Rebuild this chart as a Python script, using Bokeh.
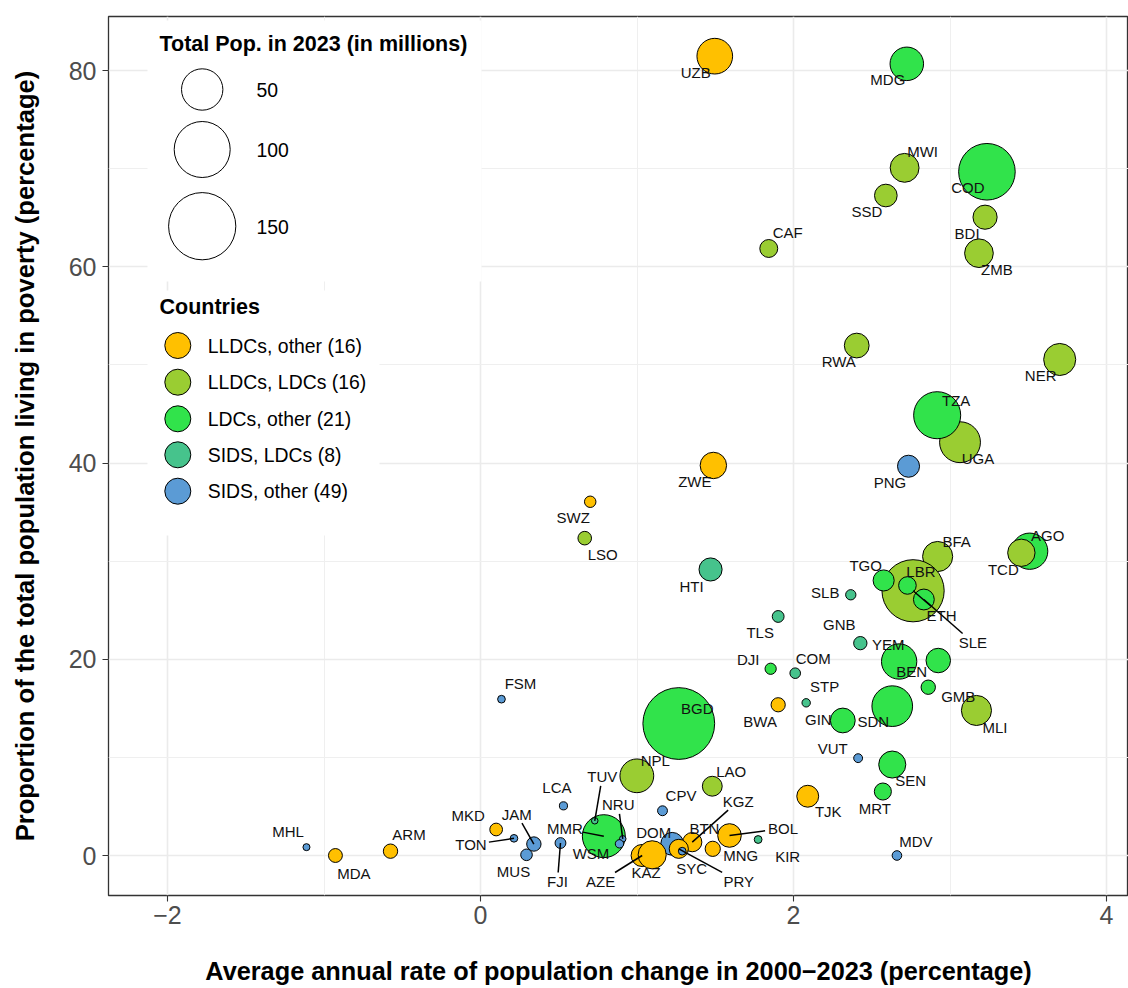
import math
from bokeh.plotting import figure
from bokeh.models import Range1d, FixedTicker, ColumnDataSource, BoxAnnotation
from bokeh.core.properties import value
from bokeh.embed import file_html
from bokeh.resources import INLINE

# ---------------- data ----------------
# drawing order = alphabetical by country name
codes = ["AGO", "ARM", "AZE", "BGD", "BEN", "BTN", "BOL", "BWA", "BFA", "BDI",
         "CPV", "CAF", "TCD", "COM", "COD", "DJI", "DOM", "SWZ", "ETH", "FJI",
         "GMB", "GIN", "GNB", "HTI", "JAM", "KAZ", "KIR", "KGZ", "LAO", "LSO",
         "LBR", "MDG", "MWI", "MDV", "MLI", "MHL", "MRT", "MUS", "FSM", "MNG",
         "MMR", "NRU", "NPL", "NER", "MKD", "PNG", "PRY", "MDA", "RWA", "LCA",
         "WSM", "STP", "SEN", "SYC", "SLE", "SLB", "SSD", "SDN", "TJK", "TLS",
         "TGO", "TON", "TUV", "UGA", "TZA", "UZB", "VUT", "YEM", "ZMB", "ZWE"]
groups = ["LDC", "LLO", "LLO", "LDC", "LDC", "LLO", "LLO", "LLO", "LLL", "LLL",
          "SO", "LLL", "LLL", "SL", "LDC", "LDC", "SO", "LLO", "LLL", "SO",
          "LDC", "LDC", "SL", "SL", "SO", "LLO", "SL", "LLO", "LLL", "LLL",
          "LDC", "LDC", "LLL", "SO", "LLL", "SO", "LDC", "SO", "SO", "LLO",
          "LDC", "SO", "LLL", "LLL", "LLO", "SO", "LLO", "LLO", "LLL", "SO",
          "SO", "SL", "LDC", "SO", "LDC", "SL", "LLL", "LDC", "LLO", "SL",
          "LDC", "SO", "SL", "LLL", "LDC", "LLO", "SO", "LDC", "LLL", "LLO"]
growth = [3.509, -0.575, 1.033, 1.267, 2.925, 1.370, 1.591, 1.902, 2.921, 3.224,
          1.163, 1.842, 3.456, 2.011, 3.236, 1.854, 1.225, 0.701, 2.764, 0.511,
          2.861, 2.315, 2.427, 1.470, 0.341, 1.097, 1.774, 1.353, 1.481, 0.666,
          2.728, 2.724, 2.710, 2.661, 3.169, -1.112, 2.571, 0.294, 0.134, 1.484,
          0.788, 0.909, 0.999, 3.701, 0.100, 2.735, 1.267, -0.927, 2.404, 0.530,
          0.888, 2.081, 2.631, 1.289, 2.833, 2.366, 2.590, 2.631, 2.091, 1.902,
          2.576, 0.214, 0.730, 3.064, 2.918, 1.497, 2.413, 2.675, 3.185, 1.488]
poverty = [31.01, 0.44, 0.00, 13.45, 19.87, 1.45, 2.04, 15.36, 30.47, 65.05,
           4.56, 61.86, 30.85, 18.58, 69.68, 19.03, 1.19, 36.05, 26.98, 1.27,
           17.15, 13.76, 21.64, 29.15, 1.17, 0.07, 1.63, 1.36, 7.06, 32.34,
           27.52, 80.68, 70.08, 0.00, 14.78, 0.85, 6.52, 0.07, 15.93, 0.68,
           1.97, 1.70, 8.12, 50.55, 2.65, 39.67, 0.68, 0.00, 51.97, 5.06,
           1.19, 15.56, 9.27, 0.44, 26.09, 26.57, 67.26, 15.22, 6.04, 24.36,
           28.03, 1.75, 3.54, 42.12, 44.87, 81.46, 9.92, 19.77, 61.38, 39.75]
population = [36.7, 2.8, 10.4, 173.0, 13.7, 0.79, 12.4, 2.7, 23.3, 13.2,
              0.6, 5.7, 18.3, 0.85, 102.3, 1.1, 11.3, 1.2, 126.5, 0.94,
              2.8, 14.2, 2.15, 11.7, 2.8, 19.6, 0.13, 7.0, 7.7, 2.3,
              5.4, 30.3, 20.9, 0.52, 23.3, 0.042, 4.9, 1.26, 0.115, 3.4,
              54.6, 0.013, 30.9, 27.2, 1.8, 10.3, 6.9, 2.5, 14.1, 0.18,
              0.225, 0.23, 17.8, 0.12, 8.8, 0.74, 11.1, 48.1, 10.1, 1.36,
              9.1, 0.107, 0.011, 48.6, 67.4, 35.2, 0.33, 34.4, 20.6, 16.7]

group_keys = ["LLO", "LLL", "LDC", "SL", "SO"]
group_names = ["LLDCs, other (16)", "LLDCs, LDCs (16)", "LDCs, other (21)",
               "SIDS, LDCs (8)", "SIDS, other (49)"]
group_colors = ["#FFC000", "#9ACD32", "#31E34B", "#46C38C", "#5B9BD5"]

size_breaks = [50, 100, 150]
size_break_labels = ["50", "100", "150"]

x_ticks = [-2, 0, 2, 4]
x_tick_labels = ["\u22122", "0", "2", "4"]
y_ticks = [0, 20, 40, 60, 80]
y_tick_labels = ["0", "20", "40", "60", "80"]

x_title = "Average annual rate of population change in 2000\u22122023 (percentage)"
y_title = "Proportion of the total population living in poverty (percentage)"

# ---------------- layout / style ----------------
W, H = 1128, 988
BL, BR, BT, BB = 108, 0, 16, 93
FW, FH = W - BL - BR, H - BT - BB
X0, X1 = (108 - 480) / 156.5, (1128 - 480) / 156.5
Y0, Y1 = (855 - 895) / 9.8125, (855 - 16) / 9.8125
SX, SY = FW / (X1 - X0), FH / (Y1 - Y0)
FONT = "Liberation Sans"


def size_of(pop):
    return 6 + 5 * math.sqrt(pop)


def px_x(px):  # canvas pixel -> data x (for legend annotations)
    return X0 + (px - BL) / SX


def px_y(py):
    return Y1 - (py - BT) / SY


# label offsets (screen px; dx right, dy down), emulating ggrepel placement
label_offsets = {
    "UZB": (-19, 16), "MDG": (-19, 16), "MWI": (18, -16), "COD": (-19, 16),
    "SSD": (-19, 16), "MOZ": (1, 16.5), "BDI": (-18, 16), "ZMB": (18, 16.5),
    "CAF": (19, -15.5), "RWA": (-18, 16), "NER": (-19, 16), "TZA": (19, -14.5),
    "UGA": (18, 16), "PNG": (-18.5, 16), "ZWE": (-18.5, 16), "SWZ": (-17, 16),
    "LSO": (18, 16), "HTI": (-19, 17), "BFA": (19, -15), "AGO": (18, -16),
    "TCD": (-18, 17), "TGO": (-18, -15), "LBR": (13.5, -14), "ETH": (28.5, 24.5),
    "SLE": (49, 43), "SLB": (-25.5, -2), "TLS": (-18, 16.5), "GNB": (-21, -18.5),
    "YEM": (-11, -17), "BEN": (-26.5, 11), "DJI": (-22.5, -9), "COM": (18, -15),
    "GMB": (30, 9), "STP": (18.5, -16), "BWA": (-18, 16.5), "GIN": (-24.5, -1),
    "SDN": (-19, 15), "MLI": (18.5, 17), "VUT": (-25.5, -10), "SEN": (18.5, 16),
    "MRT": (-8, 16.5), "TJK": (20.5, 15), "FSM": (19, -16), "BGD": (18.5, -15.5),
    "NPL": (18.5, -15), "LAO": (19, -15), "CPV": (18.5, -15), "LCA": (-6.5, -18),
    "TUV": (7.5, -44), "NRU": (-4.5, -34), "MMR": (-39, -7.5), "WSM": (-28.5, 10),
    "JAM": (-17, -30), "TON": (-43, 6.5), "MUS": (-13, 16.5), "FJI": (-3, 38.5),
    "MKD": (-28, -14), "MHL": (-18.5, -16), "MDA": (18.5, 17.5), "ARM": (18.5, -16.5),
    "AZE": (-41.5, 26), "KAZ": (-6, 18), "DOM": (-18.5, -11), "SYC": (9.5, 17),
    "PRY": (60, 32.5), "KGZ": (46, -41), "BTN": (9.5, -13), "BOL": (53.5, -7),
    "MNG": (28, 7), "KIR": (29.5, 16.5), "MDV": (19, -14.5),
}
leaders = {"TUV", "NRU", "MMR", "JAM", "TON", "FJI", "AZE", "PRY", "KGZ",
           "BOL", "SLE", "ETH"}

color_of = dict(zip(group_keys, group_colors))

src = ColumnDataSource(dict(
    x=growth, y=poverty, code=codes,
    size=[size_of(v) for v in population],
    color=[color_of[g] for g in groups],
    dx=[label_offsets[c][0] for c in codes],
    dy=[label_offsets[c][1] for c in codes],
))

p = figure(width=W, height=H, output_backend="svg", toolbar_location=None,
           x_range=Range1d(X0, X1), y_range=Range1d(Y0, Y1),
           min_border_left=BL, min_border_right=BR, min_border_top=BT,
           min_border_bottom=BB, title=None)
p.background_fill_color = "white"
p.border_fill_color = "white"
p.outline_line_color = "#333333"
p.outline_line_width = 1.3

for ax in (p.xaxis, p.yaxis):
    ax.axis_line_color = None
    ax.major_tick_line_color = "#333333"
    ax.major_tick_line_width = 1.1
    ax.major_tick_out = 6
    ax.major_tick_in = 0
    ax.minor_tick_line_color = None
    ax.major_label_text_font = FONT
    ax.major_label_text_font_size = "25px"
    ax.major_label_text_color = "#4D4D4D"
    ax.major_label_standoff = 6
    ax.axis_label_text_font = FONT
    ax.axis_label_text_font_size = "25.6px"
    ax.axis_label_text_font_style = "bold"
    ax.axis_label_text_color = "#000000"

p.xaxis.major_label_standoff = 4
p.xaxis.axis_label_text_font_size = "25.3px"
p.xaxis.ticker = FixedTicker(ticks=x_ticks, minor_ticks=[-3, -1, 1, 3])
p.yaxis.ticker = FixedTicker(ticks=y_ticks, minor_ticks=[10, 30, 50, 70])
p.xaxis.major_label_overrides = dict(zip(x_ticks, x_tick_labels))
p.yaxis.major_label_overrides = dict(zip(y_ticks, y_tick_labels))
p.yaxis.axis_label = y_title
p.yaxis.axis_label_standoff = 27
p.xaxis.axis_label = x_title
p.xaxis.axis_label_standoff = 30

for g in (p.xgrid, p.ygrid):
    g.grid_line_color = "#EBEBEB"
    g.grid_line_width = 1.6
    g.minor_grid_line_color = "#EFEFEF"
    g.minor_grid_line_width = 1.0

# ---------------- legend backgrounds ----------------
p.add_layout(BoxAnnotation(left=px_x(147), right=px_x(481), top=px_y(20), bottom=px_y(281),
                           fill_color="white", fill_alpha=1, line_color=None, level="underlay"))
p.add_layout(BoxAnnotation(left=px_x(147), right=px_x(379), top=px_y(290), bottom=px_y(535),
                           fill_color="white", fill_alpha=1, line_color=None, level="underlay"))

# ---------------- points ----------------
p.scatter("x", "y", source=src, size="size", fill_color="color", line_color="black",
          line_width=1.0, marker="circle")

# ---------------- leader segments ----------------
sx0, sy0, sx1, sy1 = [], [], [], []
for c, xv, yv in zip(codes, growth, poverty):
    if c not in leaders:
        continue
    ox, oy = label_offsets[c]
    hw, hh = len(c) * 5.3 + 2, 9
    t = min(hw / abs(ox) if ox else 1e9, hh / abs(oy) if oy else 1e9)
    ex, ey = ox * (1 - t), oy * (1 - t)
    sx0.append(xv); sy0.append(yv)
    sx1.append(xv + ex / SX); sy1.append(yv - ey / SY)
p.segment(sx0, sy0, sx1, sy1, line_color="black", line_width=1.5)

# ---------------- point labels ----------------
p.text("x", "y", text="code", source=src, x_offset="dx", y_offset="dy",
       text_font=value(FONT), text_font_size="15px", text_color="#111111",
       text_align="center", text_baseline="middle")

# ---------------- size legend ----------------
p.text([px_x(159)], [px_y(43)], text=["Total Pop. in 2023 (in millions)"],
       text_font=value(FONT), text_font_size="21.5px", text_font_style="bold",
       text_color="black", text_align="left", text_baseline="middle")
size_leg_y = [89, 149, 225.7]
p.scatter([px_x(201.7)] * 3, [px_y(v) for v in size_leg_y],
          size=[size_of(v) for v in size_breaks], fill_color="white",
          line_color="black", line_width=1.0, marker="circle")
p.text([px_x(256)] * 3, [px_y(v + 0.5) for v in size_leg_y], text=size_break_labels,
       text_font=value(FONT), text_font_size="19.4px", text_color="black",
       text_align="left", text_baseline="middle")

# ---------------- colour legend ----------------
p.text([px_x(159)], [px_y(306.5)], text=["Countries"],
       text_font=value(FONT), text_font_size="21.5px", text_font_style="bold",
       text_color="black", text_align="left", text_baseline="middle")
col_leg_y = [345, 381.7, 418.3, 454.3, 490.7]
p.scatter([px_x(177.3)] * 5, [px_y(v) for v in col_leg_y], size=26,
          fill_color=group_colors, line_color="black", line_width=1.0, marker="circle")
p.text([px_x(207.3)] * 5, [px_y(v) for v in col_leg_y], text=group_names,
       text_font=value(FONT), text_font_size="19.4px", text_color="black",
       text_align="left", text_baseline="middle")

open("out.html", "w").write(file_html(p, INLINE))
